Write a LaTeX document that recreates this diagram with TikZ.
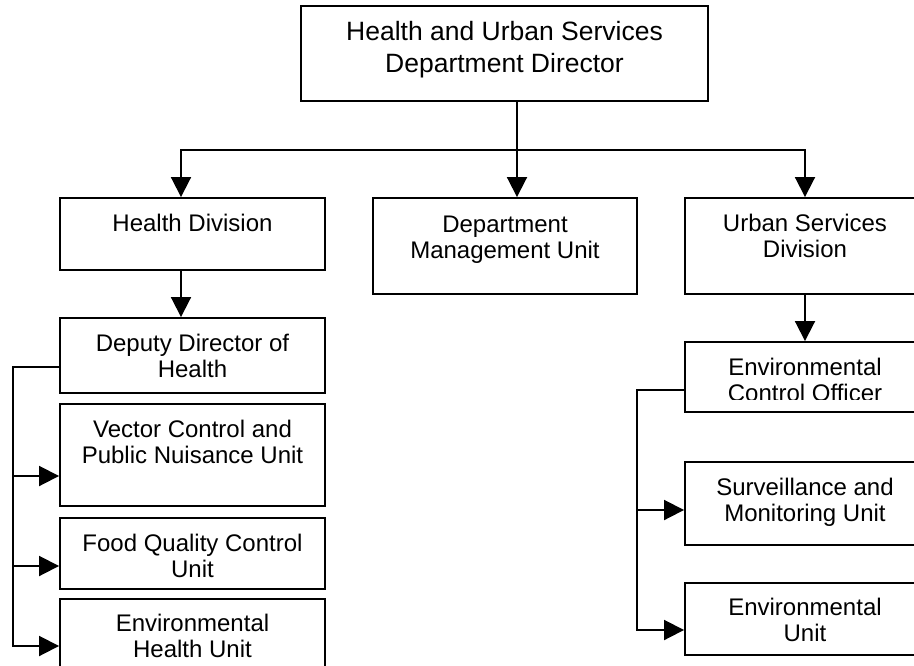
\documentclass[tikz,border=0pt]{standalone}
\usepackage{fontspec}
\setmainfont{Liberation Sans}
\usetikzlibrary{arrows.meta,fit}
\begin{document}
\begin{tikzpicture}[x=1pt,y=-1pt,
  box/.style={draw, line width=1.9pt, inner sep=0pt},
  lbl/.style={anchor=north, align=center, inner sep=0pt, font=\fontsize{24}{26.5}\selectfont},
  toplbl/.style={lbl, font=\fontsize{26.5}{32}\selectfont},
  link/.style={line width=1.9pt},
  arr/.style={link, -{Triangle[length=20pt,width=20pt]}}]
\useasboundingbox (0,0) rectangle (914,665);
\fill[white] (0,0) rectangle (914,665);
\clip (0,0) rectangle (914,665);

% boxes
\node[box, fit={(301,6)(708,101)}] (dir) {};
\node[box, fit={(60,198)(325,270)}] (hd) {};
\node[box, fit={(373,198)(637,294)}] (dmu) {};
\node[box, fit={(685,198)(925,294)}] (usd) {};
\node[box, fit={(60,318)(325,393)}] (ddh) {};
\node[box, fit={(60,404)(325,506)}] (vcu) {};
\node[box, fit={(60,518)(325,589)}] (fqc) {};
\node[box, fit={(60,599)(325,675)}] (ehu) {};
\node[box, fit={(685,342)(925,412)}] (eco) {};
\node[box, fit={(685,462)(925,545)}] (smu) {};
\node[box, fit={(685,583)(925,655)}] (evu) {};

% labels
\node[toplbl] (dirT) at (504.5,18.3) {\strut Health and Urban Services\\Department Director};
\node[lbl] (hdT) at (192.5,212.5) {\strut Health Division};
\node[lbl] (dmuT) at (505,213.5) {\strut Department\\Management Unit};
\node[lbl] (usdT) at (805,212.5) {\strut Urban Services\\Division};
\node[lbl] (ddhT) at (192.5,332.5) {\strut Deputy Director of\\Health};
\node[lbl] (vcuT) at (192.5,418.5) {\strut Vector Control and\\Public Nuisance Unit};
\node[lbl] (fqcT) at (192.5,532.5) {\strut Food Quality Control\\Unit};
\node[lbl] (ehuT) at (192.5,612.5) {\strut Environmental\\Health Unit};
\begin{scope}
  % the second line runs past the text area of its box and is cut off
  \clip (685,342) rectangle (925,399.5);
  \node[lbl] (ecoT) at (805,356.5) {\strut Environmental\\Control Officer};
\end{scope}
\node[lbl] (smuT) at (805,476.5) {\strut Surveillance and\\Monitoring Unit};
\node[lbl] (evuT) at (805,596.5) {\strut Environmental\\Unit};

% director to the three divisions
\coordinate (j) at (517,150);
\draw[link] (dir.south -| j) -- (j);
\draw[arr] (j) -| ([xshift=-11.5pt]hd.north);
\draw[arr] (j) -- (dmu.north -| j);
\draw[arr] (j) -| (usd.north);

% health division chain
\draw[arr] ([xshift=-11.5pt]hd.south) -- ([xshift=-11.5pt]ddh.north);
\coordinate (lb) at (13,367);
\coordinate (lb1) at (13,476);
\coordinate (lb2) at (13,566);
\coordinate (lb3) at (13,646);
\draw[arr] (ddh.west |- lb) -- (lb) -- (lb3) -- (ehu.west |- lb3);
\draw[arr] (lb1) -- (vcu.west |- lb1);
\draw[arr] (lb2) -- (fqc.west |- lb2);

% urban services chain
\draw[arr] (usd.south) -- (eco.north);
\coordinate (rb) at (637,390);
\coordinate (rb1) at (637,510);
\coordinate (rb2) at (637,630);
\draw[arr] (eco.west |- rb) -- (rb) -- (rb2) -- (evu.west |- rb2);
\draw[arr] (rb1) -- (smu.west |- rb1);
\end{tikzpicture}
\end{document}
